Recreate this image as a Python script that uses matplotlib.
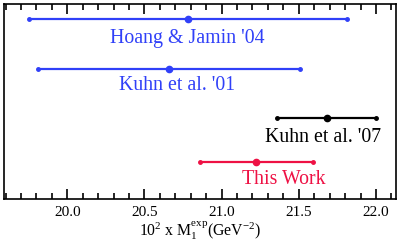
import matplotlib.pyplot as plt
from matplotlib.ticker import MultipleLocator

plt.rcParams['font.family'] = ['Liberation Serif', 'DejaVu Serif']
plt.rcParams['mathtext.fontset'] = 'custom'
plt.rcParams['mathtext.rm'] = 'Liberation Serif'
plt.rcParams['mathtext.it'] = 'Liberation Serif'

labels = ["Hoang & Jamin '04", "Kuhn et al. '01", "Kuhn et al. '07", "This Work"]
central = [20.78, 20.66, 21.68, 21.22]
lower = [19.75, 19.81, 21.36, 20.86]
upper = [21.81, 21.51, 22.00, 21.59]
colors = ['#3040f8', '#3040f8', '#000000', '#ee1144']
ypos = [180, 130, 81, 37]
label_x = [20.78, 20.71, 21.66, 21.40]
label_dy = [-20, -16, -19, -17]

fig = plt.figure(figsize=(3.99, 2.43), dpi=100)
ax = fig.add_axes([4 / 399, 44 / 243, 392 / 399, 195 / 243])

for c, lo, hi, col, y, lx, dy, lab in zip(central, lower, upper, colors, ypos, label_x, label_dy, labels):
    ax.plot([lo, hi], [y, y], color=col, lw=1.6, marker='o', ms=2.5, mec=col)
    ax.plot([c], [y], 'o', color=col, ms=4.5)
    ax.text(lx, y + dy, lab, color=col, fontsize=14.3, ha='center', va='center')

ax.set_xlim(19.59, 22.13)
ax.set_ylim(0, 195)
ax.set_yticks([])
ax.xaxis.set_major_locator(MultipleLocator(0.5))
ax.xaxis.set_minor_locator(MultipleLocator(0.1))
ax.tick_params(axis='x', which='both', direction='in', top=True, labelsize=11, pad=5)
ax.tick_params(axis='x', which='major', length=7, width=1.2)
ax.tick_params(axis='x', which='minor', length=4, width=1.2)
for s in ax.spines.values():
    s.set_linewidth(1.2)
ax.set_xlabel(r'$10^2$ x M$_1^{\rm exp}$(GeV$^{-2}$)', fontsize=11.3, labelpad=1)

fig.savefig('out.png', dpi=100)
